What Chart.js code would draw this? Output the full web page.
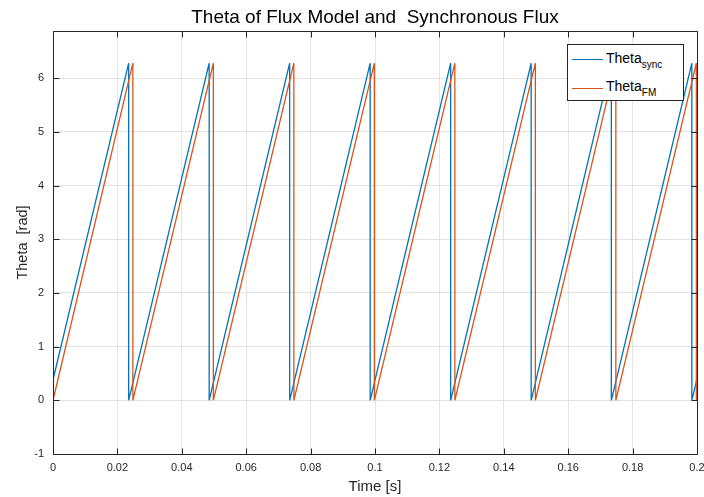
<!DOCTYPE html>
<html>
<head>
<meta charset="utf-8">
<script src="https://cdn.jsdelivr.net/npm/chart.js@4/dist/chart.umd.min.js"></script>
<style>
  html, body { margin: 0; padding: 0; background: #fff; }
  #wrap { position: relative; width: 704px; height: 497px; }
  #title { position: absolute; left: 175px; width: 400px; top: 6px; text-align: center;
           font-family: "Liberation Sans", Arial, Helvetica, sans-serif; font-size: 19px; line-height: 22px; color: #000; white-space: pre; }
  #legend { position: absolute; left: 567px; top: 44px; width: 115px; height: 55px;
            border: 1px solid #262626; background: #fff; font-family: "Liberation Sans", Arial, Helvetica, sans-serif; color: #000; }
  .ln { position: absolute; left: 4px; width: 31px; height: 1.3px; }
  .lt { position: absolute; left: 38px; font-size: 14px; line-height: 14px; white-space: nowrap; }
  .lt sub { font-size: 10px; vertical-align: -5px; line-height: 0; }
</style>
</head>
<body>
<div id="wrap">
  <canvas id="c" width="704" height="497"></canvas>
  <div id="title">Theta of Flux Model and  Synchronous Flux</div>
  <div id="legend">
    <div class="ln" style="top:14px;background:#0072BD"></div>
    <div class="lt" style="top:6px">Theta<sub>sync</sub></div>
    <div class="ln" style="top:43px;background:#D95319"></div>
    <div class="lt" style="top:34px">Theta<sub>FM</sub></div>
  </div>
</div>
<script>
// ---- data ----
const syncTime  = [0, 0.0235, 0.0235, 0.0485, 0.0485, 0.0735, 0.0735, 0.0985, 0.0985, 0.1235, 0.1235, 0.1485, 0.1485, 0.1734, 0.1734, 0.1984, 0.1984, 0.2];
const syncTheta = [0.38, 6.28, 0, 6.28, 0, 6.28, 0, 6.28, 0, 6.28, 0, 6.28, 0, 6.28, 0, 6.28, 0, 0.40];
const fmTime    = [0, 0, 0.0248, 0.0248, 0.0498, 0.0498, 0.0748, 0.0748, 0.0998, 0.0998, 0.1248, 0.1248, 0.1498, 0.1498, 0.1748, 0.1748, 0.1998, 0.1998, 0.2];
const fmTheta   = [1.25, 0, 6.28, 0, 6.28, 0, 6.28, 0, 6.28, 0, 6.28, 0, 6.28, 0, 6.28, 0, 6.28, 0, 0.05];
const xTicks = [0, 0.02, 0.04, 0.06, 0.08, 0.1, 0.12, 0.14, 0.16, 0.18, 0.2];
const yTicks = [-1, 0, 1, 2, 3, 4, 5, 6];
const seriesNames = ['Theta_sync', 'Theta_FM'];

const FONT = '"Liberation Sans", Arial, Helvetica, sans-serif';
const AX = '#262626';

const toPts = (t, v) => t.map((x, i) => ({x: x, y: v[i]}));

const boxPlugin = {
  id: 'matlabBox',
  afterDatasetsDraw(chart) {
    const {ctx, chartArea: a, scales} = chart;
    ctx.save();
    ctx.strokeStyle = AX;
    ctx.lineWidth = 1;
    ctx.beginPath();
    const L = Math.round(a.left) + 0.5, R = Math.round(a.right) + 0.5;
    const T = Math.round(a.top) + 0.5, B = Math.round(a.bottom) + 0.5;
    ctx.rect(L, T, R - L, B - T);
    const tl = 6;
    xTicks.forEach(v => {
      const x = Math.round(scales.x.getPixelForValue(v)) + 0.5;
      ctx.moveTo(x, B); ctx.lineTo(x, B - tl);
      ctx.moveTo(x, T); ctx.lineTo(x, T + tl);
    });
    yTicks.forEach(v => {
      const y = Math.round(scales.y.getPixelForValue(v)) + 0.5;
      ctx.moveTo(L, y); ctx.lineTo(L + tl, y);
      ctx.moveTo(R, y); ctx.lineTo(R - tl, y);
    });
    ctx.stroke();
    ctx.restore();
  }
};

new Chart(document.getElementById('c'), {
  type: 'line',
  data: {
    datasets: [
      { label: seriesNames[0], data: toPts(syncTime, syncTheta), borderColor: '#0072BD', borderWidth: 1.3,
        borderJoinStyle: 'bevel', pointRadius: 0, tension: 0, fill: false, order: 2 },
      { label: seriesNames[1], data: toPts(fmTime, fmTheta), borderColor: '#D95319', borderWidth: 1.3,
        borderJoinStyle: 'bevel', pointRadius: 0, tension: 0, fill: false, order: 1 }
    ]
  },
  options: {
    responsive: false,
    animation: false,
    devicePixelRatio: 1,
    layout: { padding: { top: 31, right: 0, left: 0, bottom: 0 } },
    plugins: {
      legend: { display: false },
      tooltip: { enabled: false },
      title: { display: false }
    },
    scales: {
      x: {
        type: 'linear', min: 0, max: 0.2,
        afterBuildTicks: s => { s.ticks = xTicks.map(v => ({value: v})); },
        afterFit: s => { s.height = 43; s.paddingRight = 7; s.paddingLeft = 0; },
        ticks: { color: AX, font: { family: FONT, size: 11 }, padding: 7,
                 callback: v => String(parseFloat(v.toFixed(2))), maxRotation: 0, autoSkip: false },
        grid: { color: '#e3e3e3', lineWidth: 1, drawTicks: false },
        border: { display: false },
        title: { display: true, text: 'Time [s]', color: AX,
                 font: { family: FONT, size: 15 }, padding: { top: 0, bottom: 1 } }
      },
      y: {
        type: 'linear', min: -1, max: 6.88,
        afterBuildTicks: s => { s.ticks = yTicks.map(v => ({value: v})); },
        afterFit: s => { s.width = 53; },
        ticks: { color: AX, font: { family: FONT, size: 11 }, padding: 9, autoSkip: false },
        grid: { color: '#e3e3e3', lineWidth: 1, drawTicks: false },
        border: { display: false },
        title: { display: true, text: 'Theta  [rad]', color: AX,
                 font: { family: FONT, size: 14.5 }, padding: { top: 14, bottom: 0 } }
      }
    }
  },
  plugins: [boxPlugin]
});
</script>
</body>
</html>
